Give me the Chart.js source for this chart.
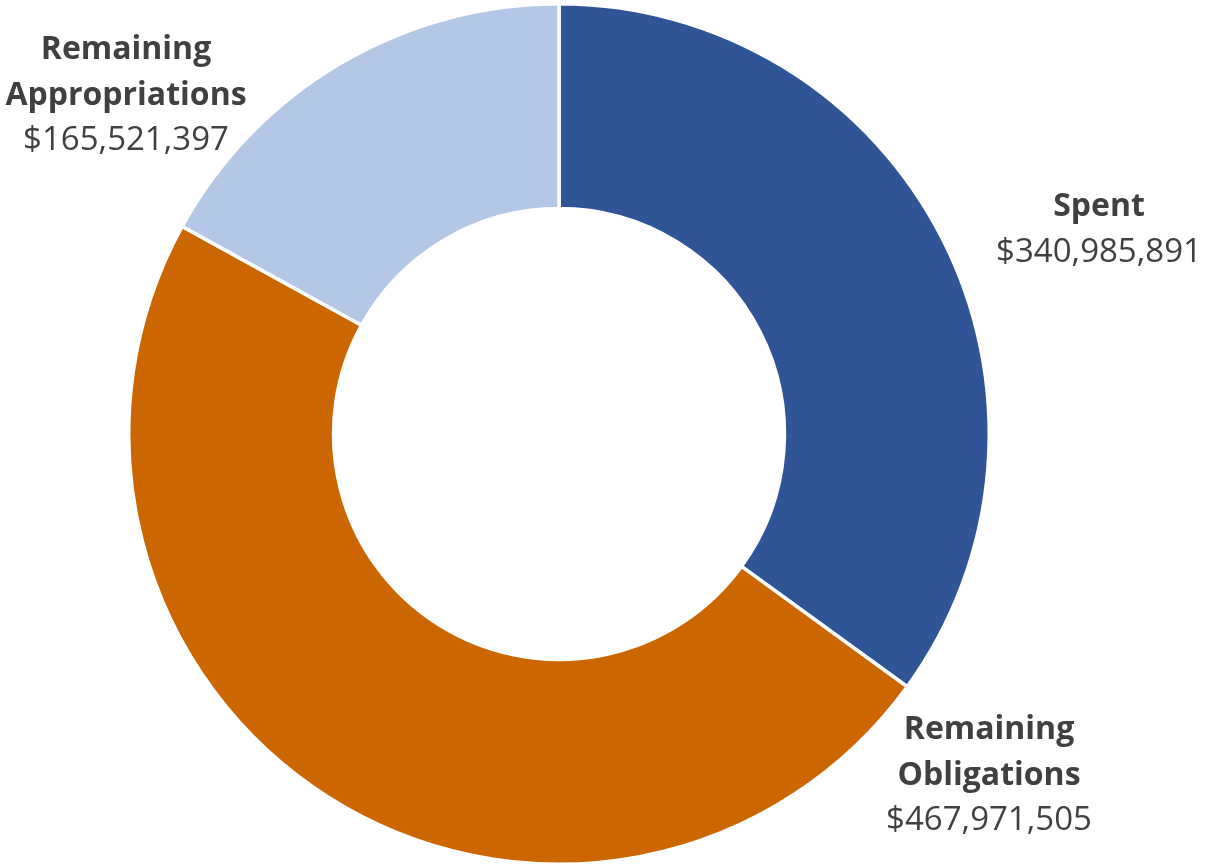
<!DOCTYPE html>
<html>
<head>
<meta charset="utf-8">
<script src="https://cdn.jsdelivr.net/npm/chart.js@4/dist/chart.umd.min.js"></script>
<style>
  html, body { margin: 0; padding: 0; background: #fff; }
  #wrap { width: 1209px; height: 866px; }
</style>
</head>
<body>
<div id="wrap"><canvas id="budgetChart" width="1209" height="866"></canvas></div>
<script>
const categories = ["Spent", "Remaining Obligations", "Remaining Appropriations"];
const labelLines = [["Spent"], ["Remaining", "Obligations"], ["Remaining", "Appropriations"]];
const amounts = [340985891, 467971505, 165521397];
const sliceColors = ["#2F5597", "#CC6600", "#B4C7E7"];

/* label anchor: centre x and first baseline, relative to the doughnut centre */
const labelAnchors = [
  { dx: 540, dy: -218 },
  { dx: 430, dy: 305 },
  { dx: -433, dy: -375 }
];

const fmt = v => "$" + v.toLocaleString("en-US");

/* Outside labels: bold category name(s) then the dollar amount */
const outsideLabels = {
  id: "outsideLabels",
  afterDatasetsDraw(chart) {
    const ctx = chart.ctx;
    const arc = chart.getDatasetMeta(0).data[0];
    const cx = arc.x, cy = arc.y;
    const lh = 45.5;
    ctx.save();
    ctx.fillStyle = "#404040";
    ctx.textAlign = "center";
    ctx.textBaseline = "alphabetic";
    labelLines.forEach((lines, i) => {
      const x = cx + labelAnchors[i].dx;
      let y = cy + labelAnchors[i].dy;
      ctx.font = "bold 32px 'Open Sans'";
      lines.forEach(t => { ctx.fillText(t, x, y); y += lh; });
      ctx.font = "33px 'Open Sans'";
      ctx.fillText(fmt(amounts[i]), x, y);
    });
    ctx.restore();
  }
};

new Chart(document.getElementById("budgetChart"), {
  type: "doughnut",
  data: {
    labels: categories,
    datasets: [{
      data: amounts,
      backgroundColor: sliceColors,
      borderColor: "#ffffff",
      borderWidth: 3.5
    }]
  },
  options: {
    responsive: false,
    animation: false,
    cutout: "52.4%",
    layout: { padding: { top: 2, bottom: -1, left: 126.5, right: 217.5 } },
    plugins: {
      legend: { display: false },
      tooltip: { enabled: false }
    }
  },
  plugins: [outsideLabels]
});
</script>
</body>
</html>
